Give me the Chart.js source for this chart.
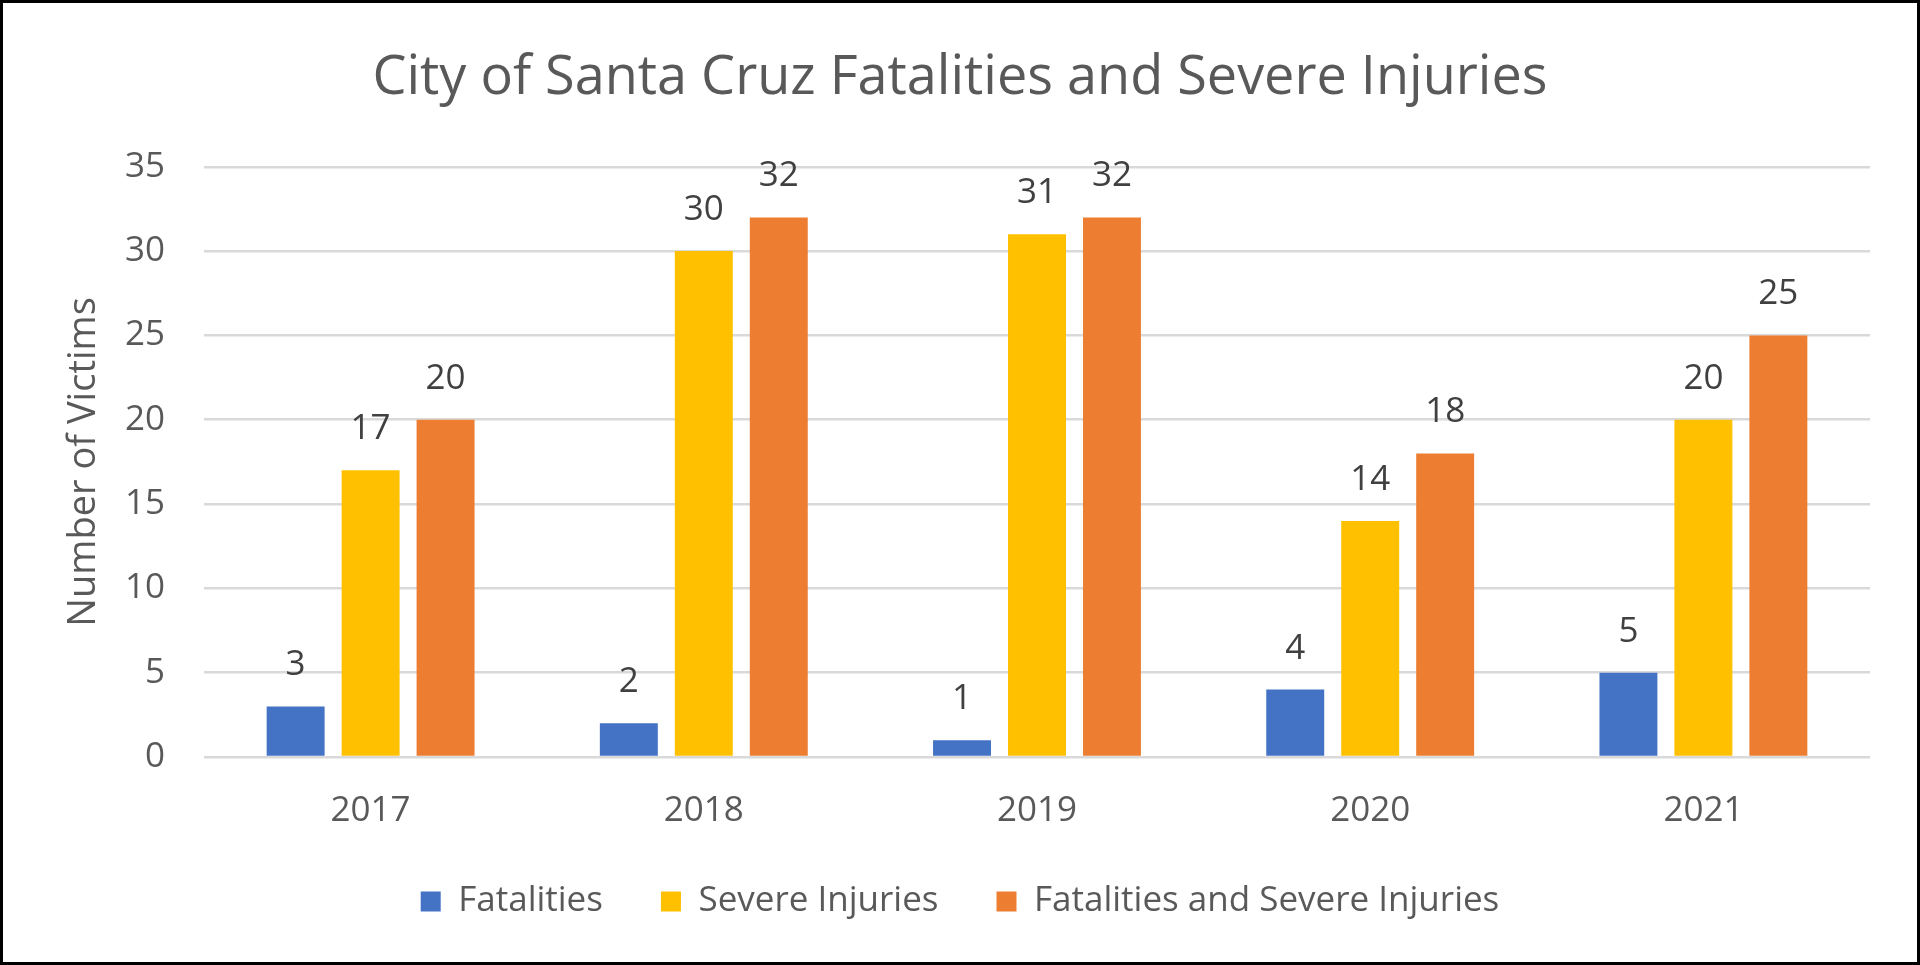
<!DOCTYPE html>
<html>
<head>
<meta charset="utf-8">
<script src="https://cdn.jsdelivr.net/npm/chart.js@4.4.0/dist/chart.umd.min.js"></script>
<style>
html, body { margin: 0; padding: 0; background: #fff; }
#wrap { width: 1920px; height: 965px; box-sizing: border-box; border: 3px solid #000; }
canvas { display: block; }
</style>
</head>
<body>
<div id="wrap"><canvas id="chart"></canvas></div>
<script>
const years = ['2017', '2018', '2019', '2020', '2021'];
const fatalities = [3, 2, 1, 4, 5];
const severeInjuries = [17, 30, 31, 14, 20];
const fatalAndSevere = [20, 32, 32, 18, 25];
const seriesNames = ['Fatalities', 'Severe Injuries', 'Fatalities and Severe Injuries'];
const yTicks = [0, 5, 10, 15, 20, 25, 30, 35];

const textGrey = '#595959';

Chart.defaults.font.family = '"Open Sans", sans-serif';
Chart.defaults.color = textGrey;

// value labels above each bar
const barLabels = {
    id: 'barLabels',
    afterDatasetsDraw(chart) {
        const ctx = chart.ctx;
        ctx.save();
        ctx.font = '35px "Open Sans"';
        ctx.fillStyle = '#404040';
        ctx.textAlign = 'center';
        ctx.textBaseline = 'middle';
        chart.data.datasets.forEach((ds, i) => {
            chart.getDatasetMeta(i).data.forEach((bar, j) => {
                ctx.fillText(ds.data[j], bar.x, bar.y - 41);
            });
        });
        ctx.restore();
    }
};

const chartData = {
    labels: years,
    datasets: [
        { label: seriesNames[0], data: fatalities, backgroundColor: '#4472C4' },
        { label: seriesNames[1], data: severeInjuries, backgroundColor: '#FFC000' },
        { label: seriesNames[2], data: fatalAndSevere, backgroundColor: '#ED7D31' }
    ]
};

const config = {
    type: 'bar',
    data: chartData,
    plugins: [barLabels],
    options: {
        responsive: true,
        maintainAspectRatio: false,
        animation: false,
        categoryPercentage: 0.675,
        barPercentage: 0.773,
        layout: { padding: { left: 47, right: 47, top: 0, bottom: 33 } },
        plugins: {
            title: {
                display: true,
                text: 'City of Santa Cruz Fatalities and Severe Injuries',
                color: textGrey,
                font: { size: 54, weight: 'normal' },
                padding: { top: 43, bottom: 56 }
            },
            legend: {
                position: 'bottom',
                labels: {
                    boxWidth: 20,
                    boxHeight: 20,
                    padding: 58,
                    color: textGrey,
                    font: { size: 35 }
                }
            },
            tooltip: { enabled: false }
        },
        scales: {
            x: {
                grid: { display: false },
                border: { display: false },
                ticks: { padding: 32, color: textGrey, font: { size: 35, lineHeight: 0.8 } },
                afterFit(axis) { axis.height = 69; }
            },
            y: {
                min: yTicks[0],
                max: yTicks[yTicks.length - 1],
                ticks: { stepSize: yTicks[1] - yTicks[0], padding: 39, color: textGrey, font: { size: 35 } },
                grid: { color: '#d9d9d9', lineWidth: 2.5, drawTicks: false },
                border: { display: false },
                title: {
                    display: true,
                    text: 'Number of Victims',
                    color: textGrey,
                    font: { size: 38 },
                    padding: { top: 11, bottom: 0 }
                },
                afterFit(axis) { axis.width = 154; }
            }
        }
    }
};

new Chart(document.getElementById('chart').getContext('2d'), config);
</script>
</body>
</html>
